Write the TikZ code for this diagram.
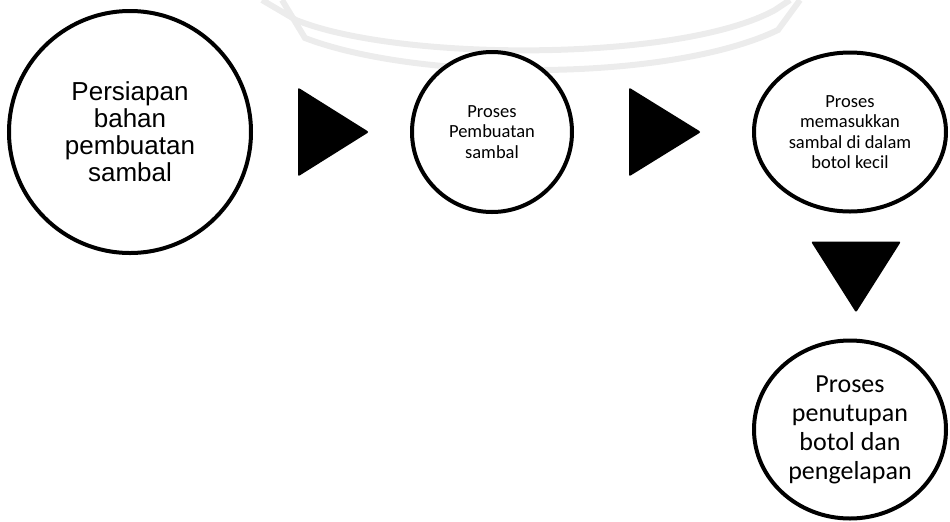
\documentclass[tikz,border=0pt]{standalone}
\usepackage{fontspec}
\setmainfont{Carlito}
\newfontfamily\arialfont{Liberation Sans}
\usepackage{tikz}
\usetikzlibrary{positioning,shapes.geometric,calc}
\definecolor{markgray}{RGB}{236,236,236}

\begin{document}
\begin{tikzpicture}[
      x=0.5pt, y=-0.5pt,
      bubble/.style={circle, draw=black, line width=2pt, fill=white,
                     align=center, inner sep=0pt, outer sep=0pt},
      oval/.style={ellipse, draw=black, line width=2pt, fill=white,
                   align=center, inner sep=0pt, outer sep=0pt},
      tip/.style={fill=black, rounded corners=1pt},
      wmark/.style={draw=markgray, line width=3pt},
      arialbig/.style={font=\arialfont\fontsize{13}{13.5}\selectfont},
      calsmall/.style={font=\fontsize{9.25}{10.25}\selectfont},
      calbig/.style={font=\fontsize{13}{14.5}\selectfont}
    ]
    \useasboundingbox (0,0) rectangle (950,521);
    % faint watermark behind the chart
    \draw[wmark] (262,0) -- (296,20) .. controls (400,62) and (680,62) .. (775,10) -- (790,0);
    \draw[wmark] (282,0) -- (305,38) .. controls (420,82) and (670,82) .. (778,30) -- (800,0);
    % process steps
    \node[bubble, arialbig, minimum size=121pt] (c1) at (130,132)
         {Persiapan\\bahan\\pembuatan\\sambal};
    \node[bubble, calsmall, minimum size=80pt, right=80.5pt of c1] (c2)
         {Proses\\Pembuatan\\sambal};
    \node[oval, calsmall, minimum width=96pt, minimum height=79.5pt,
          right=91pt of c2] (c3)
         {Proses\\memasukkan\\sambal di dalam\\botol kecil};
    \node[oval, calbig, minimum width=96pt, minimum height=89pt,
          below=64.5pt of c3] (c4)
         {Proses\\penutupan\\botol dan\\pengelapan};
    % triangle arrows between the steps
    \coordinate[right=23.5pt of c1.east] (t1);
    \coordinate[right=28.5pt of c2.east] (t2);
    \coordinate (t3) at ($(c3.south)+(6,30)$);
    \fill[tip] (t1) ++(0,-44.5) -- ++(71,44.5) -- ++(-71,44.5) -- cycle;
    \fill[tip] (t2) ++(0,-44.5) -- ++(72,44.5) -- ++(-72,44.5) -- cycle;
    \fill[tip] (t3) ++(-45,0) -- ++(90,0) -- ++(-45,71) -- cycle;
  \end{tikzpicture}
\end{document}
